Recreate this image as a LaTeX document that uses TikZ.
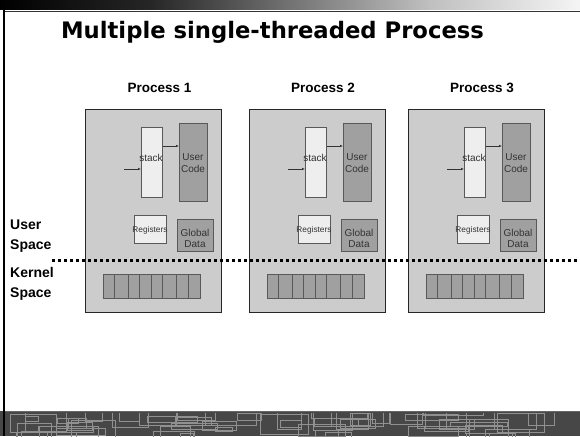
\documentclass[tikz,border=0pt]{standalone}
\usepackage{fontspec}
\setmainfont{Liberation Sans}
\newfontfamily\titlefont{DejaVu Sans}
\usetikzlibrary{arrows.meta}

\definecolor{procfill}{HTML}{CCCCCC}
\definecolor{lightfill}{HTML}{EEEEEE}
\definecolor{darkfill}{HTML}{A0A0A0}
\definecolor{bandfill}{HTML}{474747}
\definecolor{bandline}{HTML}{909090}

\pgfdeclarehorizontalshading{topbar}{100bp}{color(0bp)=(black); color(25bp)=(black); color(38bp)=(black!85); color(62bp)=(black!25); color(75bp)=(black!4); color(100bp)=(black!4)}

\tikzset{
  procbox/.style={draw=black!85, line width=1.3pt, fill=procfill, anchor=north west, inner sep=0pt},
  part/.style={draw=black!65, line width=0.7pt, anchor=north west, inner sep=0pt},
  parttext/.style={font=\fontsize{10}{11}\selectfont, text=black!80, align=center, inner sep=0pt},
  cell/.style={draw=black!65, line width=0.7pt, fill=darkfill, anchor=north west, inner sep=0pt, minimum height=24pt},
  flow/.style={-{Latex[length=3pt,width=2.4pt]}, line width=0.5pt, black!80},
  sidelabel/.style={font=\bfseries\fontsize{14}{18}\selectfont, anchor=base west, inner sep=0pt},
  proclabel/.style={font=\bfseries\fontsize{13.5}{16}\selectfont, anchor=base, inner sep=0pt},
  divider/.style={line width=3pt, dash pattern=on 3pt off 3pt, black}
}

% one process: #1 = left edge, #2 = index
\newcommand{\procblock}[2]{%
  \node[procbox, minimum width=136pt, minimum height=203pt] (proc#2) at (#1,109) {};
  \node[part, fill=lightfill, minimum width=21pt, minimum height=70pt] (stack#2) at ({#1+56},127) {};
  \node[parttext] (stacktxt#2) at ({#1+66},158) {stack};
  \node[part, fill=darkfill, minimum width=28pt, minimum height=78pt] (code#2) at ({#1+94},123) {};
  \node[parttext, font=\fontsize{10}{11.5}\selectfont] (codetxt#2) at ({#1+108},163) {User\\Code};
  \node[part, fill=lightfill, minimum width=32pt, minimum height=28pt] (regs#2) at ({#1+49},215) {};
  \node[parttext, font=\fontsize{8.3}{9}\selectfont] (regstxt#2) at ({#1+65},230) {Registers};
  \node[part, fill=darkfill, minimum width=36pt, minimum height=32pt] (glob#2) at ({#1+92},219) {};
  \node[parttext, font=\fontsize{10}{11}\selectfont] (globtxt#2) at ({#1+110},238) {Global\\Data};
  \coordinate (in#2) at ({#1+39},169);
  \draw[flow] (in#2) -- (in#2 -| stack#2.west);
  \draw[flow] (stack#2.east |- 0,146) -- (code#2.west |- 0,146);
  \foreach \a/\b [count=\k] in {18.3/29.3, 29.3/43.3, 43.3/54.3, 54.3/65.7, 65.7/76.7, 76.7/90.7, 90.7/103.3, 103.3/115}
    \node[cell, minimum width={(\b-\a)*1pt}] (cell#2-\k) at ({#1+\a},274) {};
}

\begin{document}
\begin{tikzpicture}[x=1pt, y=-1pt]
  \useasboundingbox (0,0) rectangle (580,436);
  \fill[white] (0,0) rectangle (580,436);

  % header strip and frame
  \shade[shading=topbar] (0,0) rectangle (580,9.5);
  \draw[black!80, line width=1pt] (3.5,12) -- (580,12);
  \draw[black, line width=2pt] (3.5,9) -- (3.5,411);

  % footer band with circuit-like tracery
  \fill[bandfill] (0,411) rectangle (580,436);
  \begin{scope}
    \clip (4,413) rectangle (580,436);
    \pgfmathsetseed{4213}
    \foreach \i in {1,...,60} {
      \pgfmathsetmacro{\xa}{random(0,580)}
      \pgfmathsetmacro{\ya}{407+random(0,26)}
      \pgfmathsetmacro{\w}{random(12,60)}
      \pgfmathsetmacro{\h}{random(4,20)}
      \draw[bandline, line width=1pt] (\xa,\ya) rectangle ({\xa+\w},{\ya+\h});
    }
  \end{scope}
  \draw[black!60, line width=1pt] (3.5,411) -- (580,411);
  \draw[black, line width=2pt] (3.5,411) -- (3.5,436);

  % title
  \node[font=\titlefont\bfseries\fontsize{22.7}{26}\selectfont, anchor=base, inner sep=0pt] (title) at (272.5,38.5) {Multiple single-threaded Process};

  % processes
  \procblock{85}{1}
  \procblock{249}{2}
  \procblock{408}{3}

  \node[proclabel] (lab1) at (159.5,92) {Process 1};
  \node[proclabel] (lab2) at (323,92) {Process 2};
  \node[proclabel] (lab3) at (482,92) {Process 3};

  % user / kernel boundary
  \node[sidelabel] (user1) at (10,229) {User};
  \node[sidelabel] (user2) at (10,249) {Space};
  \node[sidelabel] (kernel1) at (10,277) {Kernel};
  \node[sidelabel] (kernel2) at (10,297) {Space};
  \coordinate (divL) at (52,260);
  \coordinate (divR) at (580,260);
  \draw[divider] (divL) -- (divR);
\end{tikzpicture}
\end{document}
